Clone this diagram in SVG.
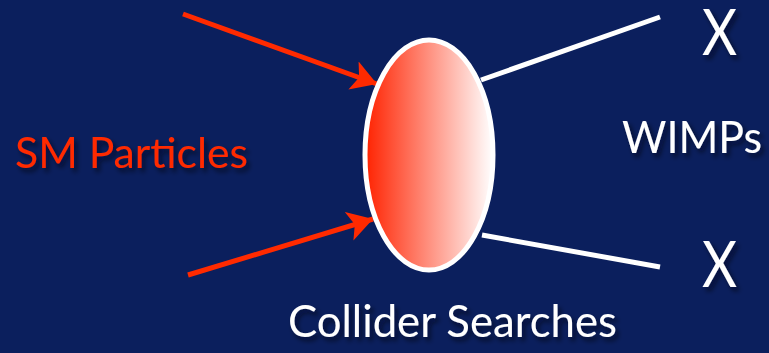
<svg xmlns="http://www.w3.org/2000/svg" width="769" height="353" viewBox="0 0 769 353">
<style>
.t{font-family:"Lato","Liberation Sans",sans-serif;filter:url(#sh)}
.w{fill:#ffffff}
.r{fill:#ff2a00}
.arr{stroke:#ff2a00;stroke-width:5;fill:none;marker-end:url(#ah)}
.wl{stroke:#ffffff;stroke-width:5;fill:none}
</style>
<defs>
<linearGradient id="g" x1="0" y1="0" x2="1" y2="0">
<stop offset="0" stop-color="#ff2200"/>
<stop offset="1" stop-color="#ffffff"/>
</linearGradient>
<marker id="ah" markerWidth="6" markerHeight="6" refX="5" refY="3" orient="auto" markerUnits="strokeWidth">
<path d="M0,0 L5,3 L0,6 L1.2,3 Z" fill="#ff2a00"/>
</marker>
<filter id="sh" x="-10%" y="-20%" width="130%" height="160%">
<feDropShadow dx="3" dy="4" stdDeviation="2.5" flood-color="#000010" flood-opacity="0.6"/>
</filter>
</defs>
<rect width="769" height="353" fill="#0b1f5d"/>
<g id="connectors">
<line class="arr" x1="183" y1="14" x2="377" y2="84"/>
<line class="arr" x1="188" y1="275" x2="373" y2="219"/>
<line class="wl" x1="481" y1="80" x2="660" y2="17"/>
<line class="wl" x1="482" y1="235" x2="660" y2="267"/>
</g>
<g id="collider">
<ellipse cx="429" cy="155" rx="64" ry="115" fill="url(#g)" stroke="#ffffff" stroke-width="5"/>
</g>
<g id="sm-particles">
<text class="t r" x="15" y="168" font-size="42" textLength="233" lengthAdjust="spacingAndGlyphs">SM Particles</text>
</g>
<g id="x-top">
<text class="t w" x="702" y="55" font-size="64" textLength="35" lengthAdjust="spacingAndGlyphs">X</text>
</g>
<g id="wimps">
<text class="t w" x="622" y="153" font-size="45" textLength="140" lengthAdjust="spacingAndGlyphs">WIMPs</text>
</g>
<g id="x-bottom">
<text class="t w" x="702" y="287" font-size="64" textLength="35" lengthAdjust="spacingAndGlyphs">X</text>
</g>
<g id="collider-searches">
<text class="t w" x="288" y="337" font-size="44" textLength="329" lengthAdjust="spacingAndGlyphs">Collider Searches</text>
</g>
</svg>
